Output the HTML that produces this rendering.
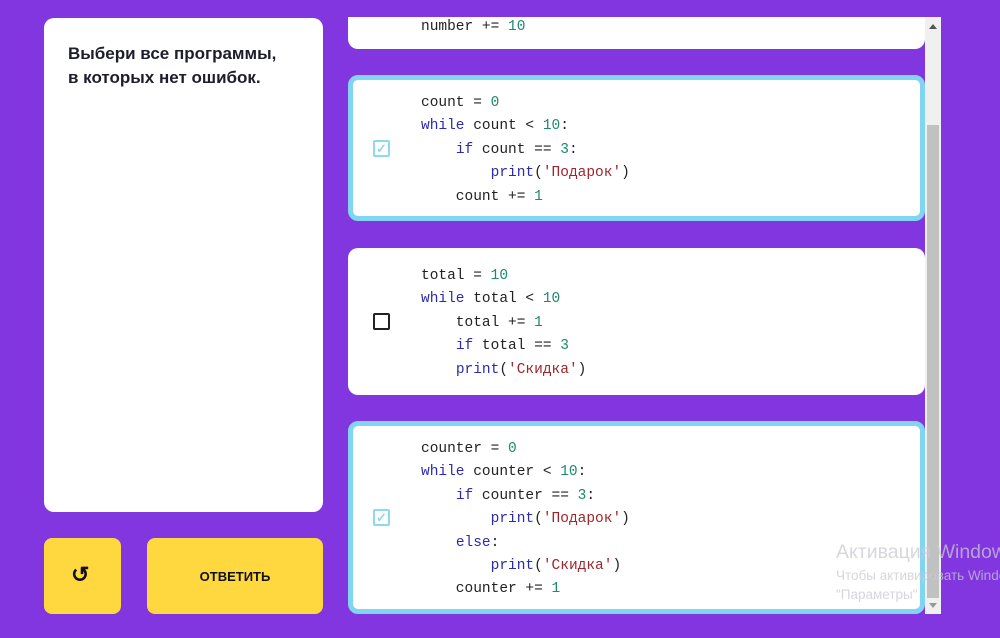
<!DOCTYPE html>
<html><head><meta charset="utf-8"><style>
body{margin:0;width:1000px;height:638px;background:#8136e0;position:relative;overflow:hidden;font-family:"Liberation Sans",sans-serif}
.abs{position:absolute}
.panel{left:44px;top:18px;width:279px;height:494px;background:#fff;border-radius:10px}
.q{left:68px;top:42px;font-weight:bold;font-size:17px;line-height:24px;color:#1d1d2b}
.btn{background:#ffd83f;border-radius:8px}
.card{left:348px;width:577px;background:#fff;border-radius:10px;box-sizing:border-box}
.sel{border:5px solid #80d5f2}
pre{position:absolute;left:421px;margin:0;font-family:"Liberation Mono",monospace;font-size:14.5px;line-height:23.4px;color:#222}
.k{color:#2b2bb0}.n{color:#1c8a6c}.s{color:#a0252c}
.cb{position:absolute;left:373px;width:17px;height:17px;box-sizing:border-box;border-radius:2px}
</style></head><body>
<div class="abs panel"></div>
<div class="abs q">Выбери все программы,<br>в которых нет ошибок.</div>
<div class="abs btn" style="left:44px;top:538px;width:77px;height:76px"></div>
<div class="abs" style="left:71px;top:562px;font-size:22px;font-weight:bold;color:#111">↺</div>
<div class="abs btn" style="left:147px;top:538px;width:176px;height:76px"></div>
<div class="abs" style="left:147px;top:569px;width:176px;text-align:center;font-size:13px;font-weight:bold;color:#111">ОТВЕТИТЬ</div>

<div class="abs card" style="top:17px;height:32px;border-radius:0 0 10px 10px"></div>
<pre style="top:16px">number += <span class="n">10</span></pre>

<div class="abs card sel" style="top:75px;height:146px"></div>
<div class="cb" style="top:140px;border:2px solid #8fd9ef;color:#8fd9ef;font-size:13px;line-height:13px;text-align:center;font-weight:bold">✓</div>
<pre style="top:92px">count = <span class="n">0</span>
<span class="k">while</span> count &lt; <span class="n">10</span>:
    <span class="k">if</span> count == <span class="n">3</span>:
        <span class="k">print</span>(<span class="s">'Подарок'</span>)
    count += <span class="n">1</span></pre>

<div class="abs card" style="top:248px;height:147px"></div>
<div class="cb" style="top:313px;border:2px solid #222"></div>
<pre style="top:265px">total = <span class="n">10</span>
<span class="k">while</span> total &lt; <span class="n">10</span>
    total += <span class="n">1</span>
    <span class="k">if</span> total == <span class="n">3</span>
    <span class="k">print</span>(<span class="s">'Скидка'</span>)</pre>

<div class="abs card sel" style="top:421px;height:193px"></div>
<div class="cb" style="top:509px;border:2px solid #8fd9ef;color:#8fd9ef;font-size:13px;line-height:13px;text-align:center;font-weight:bold">✓</div>
<pre style="top:438px">counter = <span class="n">0</span>
<span class="k">while</span> counter &lt; <span class="n">10</span>:
    <span class="k">if</span> counter == <span class="n">3</span>:
        <span class="k">print</span>(<span class="s">'Подарок'</span>)
    <span class="k">else</span>:
        <span class="k">print</span>(<span class="s">'Скидка'</span>)
    counter += <span class="n">1</span></pre>

<div class="abs" style="left:925px;top:17px;width:16px;height:597px;background:#f0f0f0"></div>
<div class="abs" style="left:927px;top:125px;width:12px;height:473px;background:#c1c1c1"></div>
<div class="abs" style="left:929px;top:24px;width:0;height:0;border-left:4px solid transparent;border-right:4px solid transparent;border-bottom:5px solid #555"></div>
<div class="abs" style="left:929px;top:603px;width:0;height:0;border-left:4px solid transparent;border-right:4px solid transparent;border-top:5px solid #999"></div>

<div class="abs" style="left:836px;top:541px;font-size:19.5px;color:rgba(200,200,210,0.75);white-space:nowrap">Активация Windows</div>
<div class="abs" style="left:836px;top:568px;font-size:13.5px;color:rgba(200,200,210,0.75);white-space:nowrap">Чтобы активировать Windows</div>
<div class="abs" style="left:836px;top:587px;font-size:13.5px;color:rgba(200,200,210,0.75);white-space:nowrap">"Параметры"</div>
</body></html>
